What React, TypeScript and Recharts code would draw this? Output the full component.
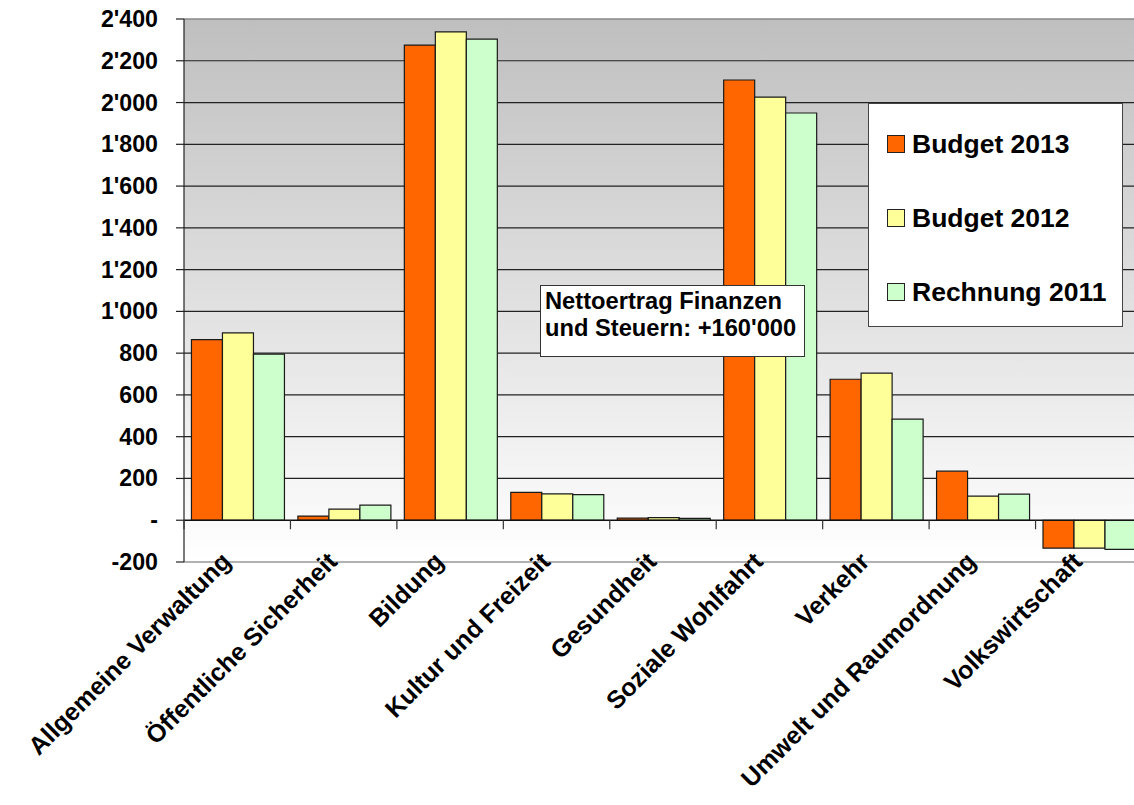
import React from 'react';
import { BarChart, Bar, XAxis, YAxis, CartesianGrid, ReferenceLine, Legend } from 'recharts';

const categories = [
  'Allgemeine Verwaltung',
  'Öffentliche Sicherheit',
  'Bildung',
  'Kultur und Freizeit',
  'Gesundheit',
  'Soziale Wohlfahrt',
  'Verkehr',
  'Umwelt und Raumordnung',
  'Volkswirtschaft',
];
const budget2013 = [865, 20, 2275, 133, 10, 2108, 675, 235, -134];
const budget2012 = [897, 53, 2338, 126, 12, 2026, 704, 115, -134];
const rechnung2011 = [795, 72, 2304, 123, 9, 1950, 484, 125, -140];
const yTicks = [-200, 0, 200, 400, 600, 800, 1000, 1200, 1400, 1600, 1800, 2000, 2200, 2400];
const gridValues = [200, 400, 600, 800, 1000, 1200, 1400, 1600, 1800, 2000, 2200];
const seriesNames = ['Budget 2013', 'Budget 2012', 'Rechnung 2011'];
const seriesColors = ['#FF6600', '#FFFF99', '#CCFFCC'];
const noteLines = ['Nettoertrag Finanzen', "und Steuern: +160'000"];

const data = categories.map((c, i) => ({
  name: c,
  b2013: budget2013[i],
  b2012: budget2012[i],
  r2011: rechnung2011[i],
}));
const keys = ['b2013', 'b2012', 'r2011'];

const CHART_W = 1142;
const CHART_H = 805;
const MARGIN = { top: 19, right: 0, bottom: 0, left: 0 };
const Y_W = 184;
const X_H = 243;
const PLOT_W = CHART_W - Y_W - MARGIN.left - MARGIN.right;
const PLOT_H = CHART_H - MARGIN.top - MARGIN.bottom - X_H;
const DOMAIN: [number, number] = [-200, 2400];
const BAND = PLOT_W / categories.length;
const ZERO_OFFSET = (PLOT_H * (0 - DOMAIN[0])) / (DOMAIN[1] - DOMAIN[0]);

const FONT = '"Liberation Sans", Arial, sans-serif';

const fmt = (v: number) => {
  if (v === 0) return '-';
  const s = Math.abs(v).toString().replace(/\B(?=(\d{3})+(?!\d))/g, "'");
  return (v < 0 ? '-' : '') + s;
};

const XTick = (props: any) => {
  const { x, y, payload } = props;
  const tx = x - 5;
  const ty = y + 1;
  return (
    <g>
      <line x1={x - BAND / 2} x2={x - BAND / 2} y1={y - ZERO_OFFSET} y2={y - ZERO_OFFSET + 9} stroke="#333" strokeWidth={1.2} />
      <text
        x={tx}
        y={ty}
        textAnchor="end"
        transform={`rotate(-45, ${tx}, ${ty})`}
        fontFamily={FONT}
        fontWeight="bold"
        fontSize={25}
        fill="#000"
      >
        {payload.value}
      </text>
    </g>
  );
};

const YTick = (props: any) => {
  const { x, y, payload } = props;
  return (
    <text
      x={x}
      y={y}
      dy={8}
      textAnchor="end"
      fontFamily={FONT}
      fontWeight="bold"
      fontSize={23.2}
      fill="#000"
    >
      {fmt(payload.value)}
    </text>
  );
};

const LegendBox = () => (
  <div
    style={{
      position: 'absolute',
      left: 868,
      top: 103,
      width: 253,
      height: 222,
      background: '#fff',
      border: '1px solid #444',
      fontFamily: FONT,
      fontWeight: 'bold',
      fontSize: 26.5,
      color: '#000',
    }}
  >
    {seriesNames.map((n, i) => (
      <div
        key={n}
        style={{ position: 'absolute', left: 18, top: 24 + i * 74, height: 32, display: 'flex', alignItems: 'center' }}
      >
        <span
          style={{
            display: 'inline-block',
            width: 16,
            height: 16,
            background: seriesColors[i],
            border: '1px solid #222',
            marginRight: 7,
          }}
        />
        <span style={{ whiteSpace: 'nowrap' }}>{n}</span>
      </div>
    ))}
  </div>
);

export default function App() {
  return (
    <div style={{ position: 'absolute', left: 0, top: 0, width: 1134, height: 805, overflow: 'hidden', background: '#fff' }}>
      <BarChart
        width={CHART_W}
        height={CHART_H}
        data={data}
        margin={MARGIN}
        barCategoryGap="7%"
        barGap={0}
      >
        <defs>
          <linearGradient id="bgGrad" x1="0" y1="0" x2="0" y2="1">
            <stop offset="0%" stopColor="#bfbfbf" />
            <stop offset="100%" stopColor="#ffffff" />
          </linearGradient>
        </defs>
        <CartesianGrid
          vertical={false}
          horizontal={false}
          fill="url(#bgGrad)"
          fillOpacity={1}
        />
        <CartesianGrid vertical={false} horizontalValues={gridValues} stroke="#222" strokeWidth={1.2} />
        <ReferenceLine y={2400} stroke="#888" strokeWidth={1.5} />
        <XAxis
          dataKey="name"
          interval={0}
          height={X_H}
          tickLine={false}
          tickSize={0}
          tickMargin={0}
          axisLine={{ stroke: '#999', strokeWidth: 1.5 }}
          tick={<XTick />}
        />
        <YAxis
          width={Y_W}
          domain={DOMAIN}
          ticks={yTicks}
          interval={0}
          tickSize={8}
          tickMargin={18}
          axisLine={{ stroke: '#222', strokeWidth: 1.2 }}
          tickLine={{ stroke: '#222', strokeWidth: 1.2 }}
          tick={<YTick />}
        />
        <ReferenceLine y={0} stroke="#111" strokeWidth={1.3} />
        {keys.map((k, i) => (
          <Bar
            key={k}
            dataKey={k}
            name={seriesNames[i]}
            fill={seriesColors[i]}
            stroke="#1a1a1a"
            strokeWidth={1.2}
            isAnimationActive={false}
          />
        ))}
        <Legend content={() => <LegendBox />} wrapperStyle={{ position: 'absolute', left: 0, top: 0, width: 0, height: 0 }} />
      </BarChart>
      <div
        style={{
          position: 'absolute',
          left: 540,
          top: 285,
          width: 265,
          height: 72,
          background: '#fff',
          border: '1px solid #333',
          fontFamily: FONT,
          fontWeight: 'bold',
          fontSize: 23.7,
          lineHeight: '27px',
          paddingLeft: 4,
          paddingTop: 2,
          boxSizing: 'border-box',
          color: '#000',
          whiteSpace: 'nowrap',
        }}
      >
        {noteLines.map((l) => (
          <div key={l}>{l}</div>
        ))}
      </div>
    </div>
  );
}
